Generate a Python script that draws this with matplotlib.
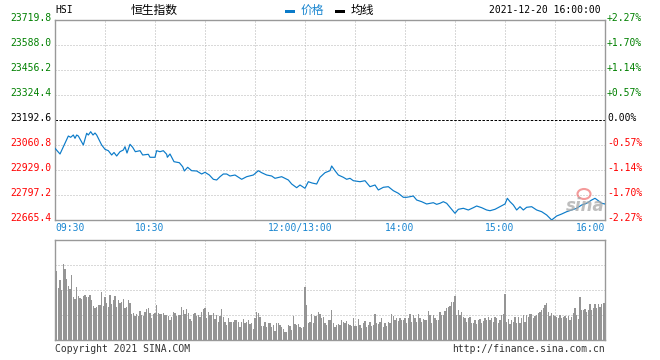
import matplotlib
matplotlib.use('Agg')
import matplotlib.pyplot as plt
import matplotlib.transforms as mtransforms
from matplotlib.patches import Rectangle, Ellipse

plt.rcParams['lines.scale_dashes'] = False
MONO = 'DejaVu Sans Mono'
CJK = ['Noto Sans CJK SC', 'DejaVu Sans']

# ---------------- data ----------------
prev_close = 23192.6
price_ticks = [22665.4, 22797.2, 22929.0, 23060.8, 23192.6, 23324.4, 23456.2, 23588.0, 23719.8]
pct_labels = ['-2.27%', '-1.70%', '-1.14%', '-0.57%', '0.00%', '+0.57%', '+1.14%', '+1.70%', '+2.27%']
time_ticks = [0, 60, 150, 210, 270, 330]
time_labels = ['09:30', '10:30', '12:00/13:00', '14:00', '15:00', '16:00']

# minutes since 09:30 (trading time, lunch removed)
price_minutes = [0, 3, 8, 9.4, 11, 12, 13, 14, 17, 19, 20, 21.4, 22.8, 24, 25, 28, 30, 32, 34, 35.4,
                 37, 39, 41, 42, 43.2, 45, 46.6, 48.2, 51, 52.6, 56, 57, 60, 61, 63, 65, 67, 67.4,
                 69, 71.4, 74.6, 76.6, 77.6, 79.6, 82, 85, 88, 90, 92.6, 95, 97, 99, 101, 103, 105,
                 108, 112, 115, 119, 122, 124, 127, 130, 132, 136, 140, 142, 145, 147, 150, 152,
                 154.2, 157, 159, 162, 165, 166, 168, 170, 173, 175, 177, 179, 183, 186, 189, 192,
                 194, 197, 200, 203, 206, 209, 211, 213, 215, 217, 220, 223, 225, 227, 229, 231,
                 233, 235, 237, 240, 242, 245, 248, 251, 253, 256, 259, 261, 264, 267, 270, 271.4,
                 273, 275, 277, 279, 281, 283, 286, 289, 292, 295, 298, 299, 301, 304, 307, 310,
                 313, 316, 319, 322, 324, 326, 328, 330]
price_values = [23043.4, 23013.4, 23108.2, 23101.4, 23113.5, 23096.1, 23113.5, 23108.2, 23060.8,
                23122.5, 23113.5, 23130.9, 23113.5, 23124.1, 23113.5, 23060.8, 23038.1, 23030.8,
                23008.1, 23021.3, 23002.8, 23025.5, 23034.4, 23051.8, 23018.6, 23064.5, 23048.7,
                23025.5, 23030.8, 23008.1, 23011.8, 22996.0, 22996.0, 23030.8, 23025.5, 23030.8,
                23011.8, 22996.0, 23013.4, 22972.8, 22967.5, 22946.4, 22923.8, 22943.2, 22925.3,
                22923.8, 22907.9, 22916.9, 22902.6, 22880.0, 22876.3, 22893.7, 22907.9, 22907.9,
                22897.4, 22902.6, 22880.0, 22893.7, 22902.6, 22925.3, 22914.8, 22902.6, 22897.4,
                22885.2, 22893.7, 22876.3, 22855.2, 22835.7, 22849.9, 22832.5, 22867.3, 22860.5,
                22855.2, 22890.5, 22914.8, 22925.3, 22950.1, 22925.3, 22902.6, 22890.5, 22880.0,
                22885.2, 22872.6, 22867.3, 22872.6, 22841.0, 22849.9, 22823.6, 22837.8, 22841.0,
                22819.9, 22806.2, 22785.1, 22785.1, 22788.2, 22791.9, 22770.8, 22761.9, 22749.8,
                22753.4, 22756.6, 22748.0, 22753.4, 22761.9, 22753.4, 22732.4, 22700.7, 22721.8,
                22727.1, 22718.1, 22730.3, 22739.2, 22730.3, 22718.1, 22714.4, 22721.8, 22735.5,
                22749.8, 22779.8, 22761.9, 22744.5, 22718.1, 22735.5, 22718.1, 22732.4, 22735.5,
                22718.1, 22709.2, 22691.8, 22665.4, 22672.3, 22686.5, 22697.0, 22709.2, 22718.1,
                22727.1, 22744.5, 22753.5, 22770.8, 22779.8, 22767.1, 22753.5, 22749.8]

# per-minute volume (arbitrary units), 331 bars
volume = [190, 207, 157, 180, 150, 228, 213, 183, 162, 153,
          195, 130, 123, 160, 132, 127, 123, 131, 135, 128,
          129, 135, 120, 103, 97, 100, 105, 105, 145, 102,
          130, 112, 99, 135, 108, 120, 133, 100, 120, 112,
          115, 122, 97, 100, 120, 110, 77, 80, 73, 77,
          72, 87, 75, 72, 83, 93, 97, 80, 67, 77,
          80, 105, 80, 77, 77, 82, 75, 74, 72, 60,
          70, 83, 80, 73, 75, 75, 100, 90, 77, 92,
          80, 63, 57, 79, 80, 73, 75, 70, 83, 93,
          97, 67, 83, 75, 75, 80, 62, 75, 53, 73,
          92, 70, 55, 45, 65, 53, 54, 55, 60, 60,
          55, 40, 55, 63, 50, 55, 60, 48, 50, 33,
          65, 83, 80, 70, 43, 43, 55, 40, 50, 50,
          40, 45, 27, 52, 50, 45, 40, 33, 25, 23,
          45, 43, 30, 73, 48, 46, 48, 38, 37, 40,
          160, 105, 50, 55, 77, 50, 73, 73, 85, 77, 67, 70, 50, 45, 60,
          60, 90, 50, 40, 45, 47, 45, 60, 55, 50, 57, 47, 45, 43, 65,
          43, 43, 62, 45, 37, 50, 57, 40, 45, 55, 43, 45, 77, 50, 47,
          55, 65, 40, 50, 43, 55, 50, 77, 73, 60, 65, 57, 67, 60, 60,
          67, 50, 65, 77, 55, 75, 65, 55, 77, 67, 55, 63, 60, 60, 87,
          75, 50, 75, 65, 60, 60, 85, 75, 75, 87, 95, 100, 103, 113, 115,
          133, 75, 90, 75, 83, 70, 65, 55, 65, 70, 50, 50, 60, 47, 60,
          63, 50, 57, 65, 60, 70, 60, 65, 55, 70, 65, 50, 60, 75, 77,
          137, 53, 63, 48, 60, 53, 70, 50, 70, 50, 65, 75, 53, 75, 70,
          77, 77, 65, 73, 75, 80, 85, 90, 97, 105, 110, 85, 73, 80, 75,
          73, 70, 67, 75, 67, 70, 73, 67, 73, 60, 70, 80, 95, 75, 63,
          130, 90, 90, 93, 85, 90, 107, 90, 97, 107, 95, 107, 100, 107, 110, 110]

# ---------------- style ----------------
BLUE = '#0b7bc9'
BLUE_T = '#1a86d0'
GREEN = '#008000'
RED = '#ff0000'
BORDER = '#999999'
GRID = '#b4b4b4'
W, H = 660, 360

fig = plt.figure(figsize=(6.6, 3.6), dpi=100)
fig.patch.set_facecolor('white')

ax = fig.add_axes([55 / W, 140 / H, 550 / W, 200 / H])
axv = fig.add_axes([55 / W, 20 / H, 550 / W, 100 / H])

for a in (ax, axv):
    a.set_xlim(0, 330)
    a.set_xticks([])
    a.set_yticks([])
    for s in a.spines.values():
        s.set_color(BORDER)
        s.set_linewidth(1.0)
    for m in range(30, 330, 30):
        a.axvline(m, color=GRID, lw=0.72, ls=(0, (0.72, 1.44)), zorder=0)

# main price panel
ax.set_ylim(price_ticks[0], price_ticks[-1])
for v in price_ticks[1:-1]:
    if abs(v - prev_close) < 1e-6:
        ax.axhline(v, color='black', lw=0.72, ls=(0, (1.8, 1.1)), zorder=1)
    else:
        ax.axhline(v, color=GRID, lw=0.72, ls=(0, (0.72, 1.44)), zorder=0)
ax.plot(price_minutes, price_values, color=BLUE, lw=0.85, zorder=3)

tl = mtransforms.blended_transform_factory(ax.transAxes, ax.transData)
for v, pl in zip(price_ticks, pct_labels):
    if abs(v - prev_close) < 1e-6:
        c = 'black'
    elif v > prev_close:
        c = GREEN
    else:
        c = RED
    ax.text(0, v, f'{v:.1f}', transform=mtransforms.offset_copy(tl, fig=fig, x=-4, y=2, units='dots'),
            ha='right', va='center', color=c, fontsize=7, family=MONO)
    ax.text(1, v, pl, transform=mtransforms.offset_copy(tl, fig=fig, x=2, y=2, units='dots'),
            ha='left', va='center', color=c, fontsize=7, family=MONO)

tb = mtransforms.blended_transform_factory(ax.transData, ax.transAxes)
for i, (t, lab) in enumerate(zip(time_ticks, time_labels)):
    if i == 0:
        ha, dx = 'left', 0
    elif i == len(time_ticks) - 1:
        ha, dx = 'right', 0
    else:
        ha, dx = 'center', -5
    ax.text(t, 0, lab, transform=mtransforms.offset_copy(tb, fig=fig, x=dx, y=-8, units='dots'),
            ha=ha, va='center', color=BLUE_T, fontsize=7, family=MONO)

# volume panel
axv.set_ylim(0, 300)
for v in (75, 150, 225):
    axv.axhline(v, color=GRID, lw=0.72, ls=(0, (0.72, 1.44)), zorder=0)
axv.bar(range(len(volume)), volume, width=0.72, color='#959595', linewidth=0, zorder=2)

# header
def fy(y):
    return 1 - y / H

fig.text(55 / W, fy(10), 'HSI', ha='left', va='center', fontsize=7, family=MONO, color='black')
fig.text(154 / W, fy(10), '恒生指数', ha='center', va='center', fontsize=8.5, family=CJK, color='black')
fig.add_artist(Rectangle((285 / W, fy(12.8)), 10 / W, 3 / H, transform=fig.transFigure,
                         color=BLUE, lw=0))
fig.text(301 / W, fy(10), '价格', ha='left', va='center', fontsize=8.5, family=CJK, color=BLUE_T)
fig.add_artist(Rectangle((335 / W, fy(12.8)), 10 / W, 3 / H, transform=fig.transFigure,
                         color='black', lw=0))
fig.text(351 / W, fy(10), '均线', ha='left', va='center', fontsize=8.5, family=CJK, color='black')
fig.text(601 / W, fy(10), '2021-12-20 16:00:00', ha='right', va='center', fontsize=7,
         family=MONO, color='black')

# watermark
fig.text(585 / W, fy(206), 'sina', ha='center', va='center', fontsize=12, fontweight='bold',
         style='italic', color='#a8a8a8', alpha=0.75, family='DejaVu Sans')
fig.add_artist(Ellipse((584 / W, fy(194)), 13 / W, 10 / H, transform=fig.transFigure,
                       facecolor='none', edgecolor='#f07070', lw=1.5, alpha=0.7))

# footer
fig.text(55 / W, fy(349), 'Copyright 2021 SINA.COM', ha='left', va='center', fontsize=7,
         family=MONO, color='#333333')
fig.text(605 / W, fy(349), 'http://finance.sina.com.cn', ha='right', va='center', fontsize=7,
         family=MONO, color='#333333')

fig.savefig('out.png', dpi=100, facecolor='white')
